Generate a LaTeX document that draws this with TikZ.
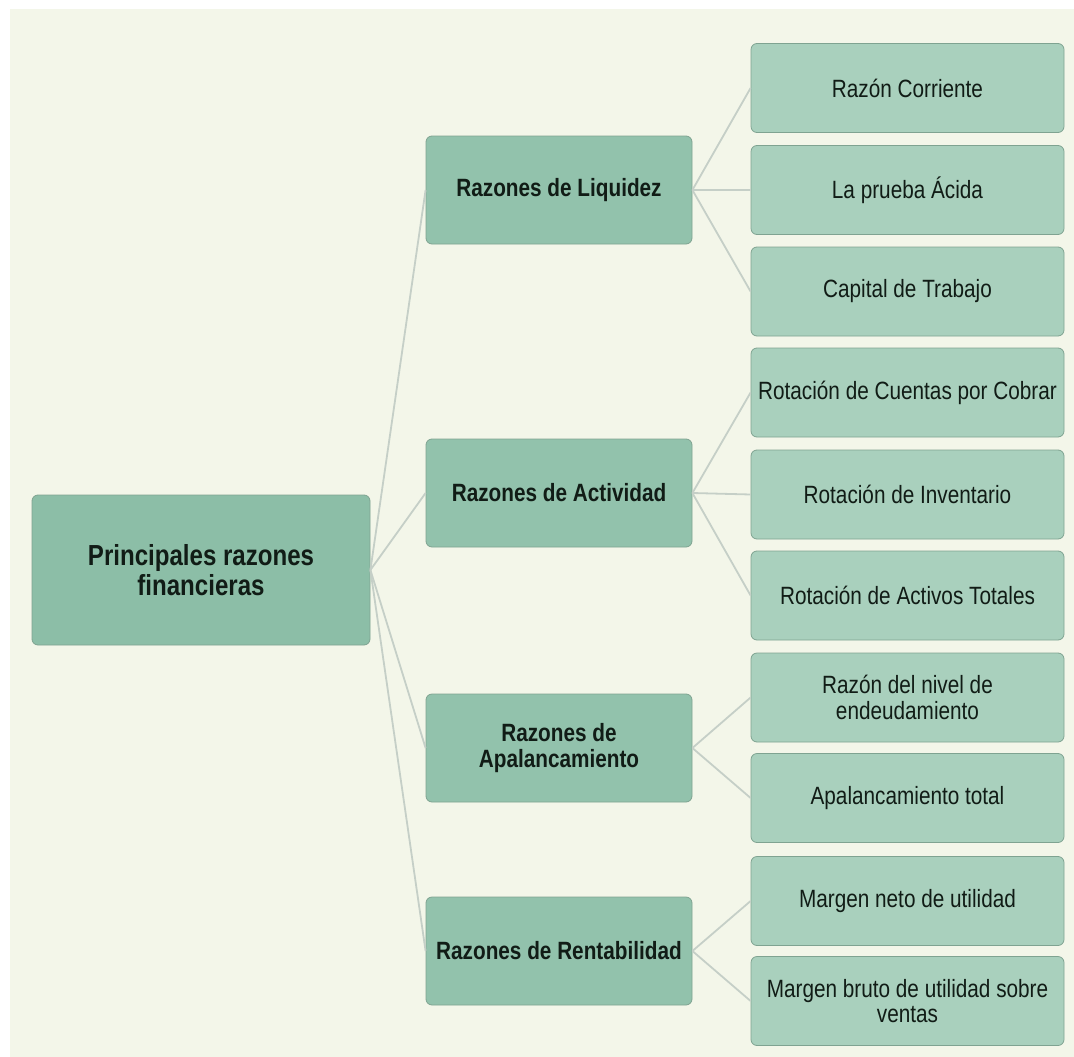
\documentclass[tikz,border=0pt]{standalone}
\usepackage{fontspec}
\newfontfamily\diagfont[FakeStretch=0.83]{Liberation Sans}
\definecolor{bgc}{HTML}{F3F6E9}
\definecolor{rootfill}{HTML}{8CBEA7}
\definecolor{midfill}{HTML}{92C2AC}
\definecolor{leaffill}{HTML}{A9D0BD}
\definecolor{boxline}{HTML}{7FA391}
\definecolor{conn}{HTML}{C5CFC7}
\definecolor{txt}{HTML}{111C16}
\begin{document}
\begin{tikzpicture}[x=1pt,y=-1pt,
  box/.style={draw=boxline, line width=0.8pt, rounded corners=6pt, align=center, text=txt, inner sep=2pt},
  rootbox/.style={box, fill=rootfill, minimum width=338pt, minimum height=150pt, font=\diagfont\bfseries\fontsize{29}{30}\selectfont},
  midbox/.style={box, fill=midfill, minimum width=266pt, minimum height=108pt, font=\diagfont\bfseries\fontsize{25}{26}\selectfont},
  leafbox/.style={box, fill=leaffill, minimum width=313pt, minimum height=89pt, font=\diagfont\fontsize{25}{25.5}\selectfont},
  link/.style={draw=conn, line width=1.8pt}]
\useasboundingbox (0,0) rectangle (1074,1057);
\fill[white] (0,0) rectangle (1074,1057);
\fill[bgc] (10,9) rectangle (1074,1057);

\node[rootbox] (root) at (201,570) {Principales razones\\financieras};

\node[midbox] (liq) at (559,190) {Razones de Liquidez};
\node[midbox] (act) at (559,493) {Razones de Actividad};
\node[midbox] (apa) at (559,748) {Razones de\\Apalancamiento};
\node[midbox] (ren) at (559,951) {Razones de Rentabilidad};

\node[leafbox] (l1) at (907.5,88) {Razón Corriente};
\node[leafbox] (l2) at (907.5,190) {La prueba Ácida};
\node[leafbox] (l3) at (907.5,291.5) {Capital de Trabajo};
\node[leafbox] (l4) at (907.5,392.5) {Rotación de Cuentas por Cobrar};
\node[leafbox] (l5) at (907.5,494.5) {Rotación de Inventario};
\node[leafbox] (l6) at (907.5,595.5) {Rotación de Activos Totales};
\node[leafbox] (l7) at (907.5,697.5) {Razón del nivel de\\endeudamiento};
\node[leafbox] (l8) at (907.5,798) {Apalancamiento total};
\node[leafbox] (l9) at (907.5,901) {Margen neto de utilidad};
\node[leafbox] (l10) at (907.5,1001) {Margen bruto de utilidad sobre\\ventas};

\foreach \m in {liq,act,apa,ren} \draw[link] (root.east) -- (\m.west);
\foreach \l in {l1,l2,l3} \draw[link] (liq.east) -- (\l.west);
\foreach \l in {l4,l5,l6} \draw[link] (act.east) -- (\l.west);
\foreach \l in {l7,l8} \draw[link] (apa.east) -- (\l.west);
\foreach \l in {l9,l10} \draw[link] (ren.east) -- (\l.west);
\end{tikzpicture}
\end{document}
